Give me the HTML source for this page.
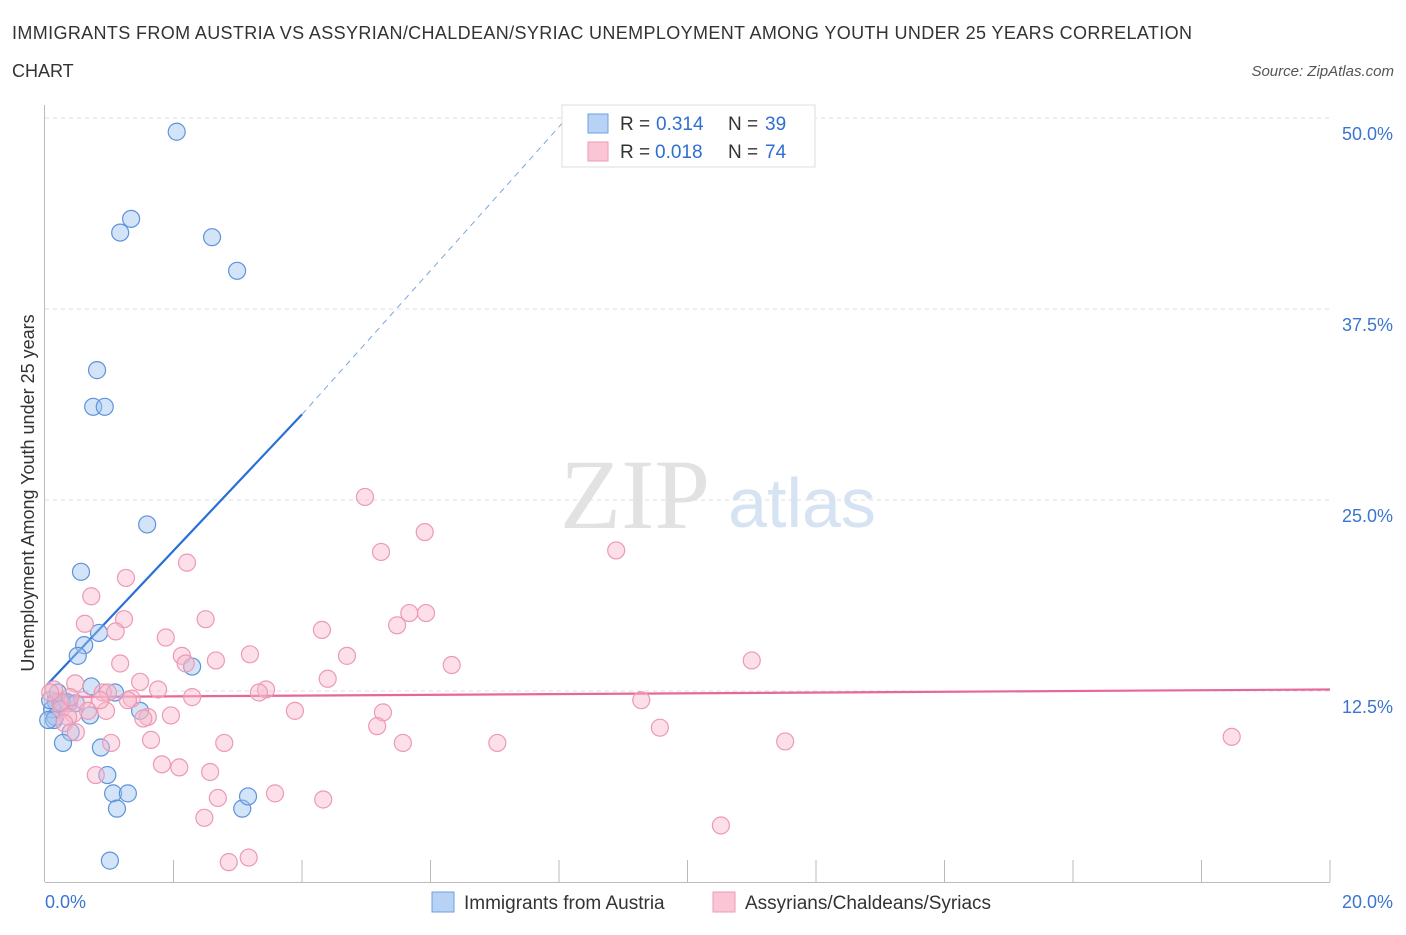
<!DOCTYPE html>
<html><head><meta charset="utf-8"><style>
body{margin:0;background:#fff;font-family:"Liberation Sans",sans-serif;}
svg text{font-family:"Liberation Sans",sans-serif;}
svg text.serif{font-family:"Liberation Serif",serif;}
</style></head><body>
<svg width="1406" height="930" xmlns="http://www.w3.org/2000/svg" id="chart">
<text x="12" y="39" font-size="18" fill="#333" textLength="1180">IMMIGRANTS FROM AUSTRIA VS ASSYRIAN/CHALDEAN/SYRIAC UNEMPLOYMENT AMONG YOUTH UNDER 25 YEARS CORRELATION</text>
<text x="12" y="77" font-size="18" fill="#333">CHART</text>
<text x="1394" y="76" font-size="15" fill="#555" font-style="italic" text-anchor="end">Source: ZipAtlas.com</text>
<text x="635" y="528" class="serif" font-size="100" fill="#e2e2e2" text-anchor="middle">ZIP</text>
<text x="802" y="527" font-size="70" fill="#d5e3f3" text-anchor="middle">atlas</text>
<g id="grid"></g>
<g id="axes"></g>
<text transform="translate(34,493) rotate(-90)" font-size="18" fill="#333" text-anchor="middle">Unemployment Among Youth under 25 years</text>
<g id="trend"></g>
<g id="pts"></g>
<g>
<rect x="562" y="105" width="253" height="62" fill="#fff" stroke="#ddd"/>
<rect x="588" y="114" width="20" height="19" fill="#b7d2f5" stroke="#6f9fe0"/>
<rect x="588" y="142" width="20" height="19" fill="#fac6d6" stroke="#ee9ab5"/>
<text x="620" y="130" font-size="19" fill="#333">R =</text>
<text x="656" y="130" font-size="19" fill="#2f6fd0">0.314</text>
<text x="728" y="130" font-size="19" fill="#333">N =</text>
<text x="765" y="130" font-size="19" fill="#2f6fd0">39</text>
<text x="620" y="158" font-size="19" fill="#333">R =</text>
<text x="655" y="158" font-size="19" fill="#2f6fd0">0.018</text>
<text x="728" y="158" font-size="19" fill="#333">N =</text>
<text x="765" y="158" font-size="19" fill="#2f6fd0">74</text>
</g>
<g>
<rect x="432" y="892" width="22" height="20" fill="#b7d2f5" stroke="#6f9fe0"/>
<text x="464" y="909" font-size="19" fill="#333">Immigrants from Austria</text>
<rect x="713" y="892" width="22" height="20" fill="#fac6d6" stroke="#ee9ab5"/>
<text x="745" y="909" font-size="19" fill="#333">Assyrians/Chaldeans/Syriacs</text>
</g>
</svg>
<script>
const xTicks=[0,20];
const yTicks=[12.5,25,37.5,50];
const blueX=[2.05,1.34,1.17,2.6,2.99,0.81,0.75,0.93,1.59,0.56,0.84,0.61,0.51,2.29,0.72,1.09,0.33,0.17,0.37,0.11,0.7,1.48,0.16,0.4,0.28,0.87,0.97,1.06,1.29,1.12,3.07,3.16,1.01,0.08,0.2,0.14,0.05,0.26,0.48];
const blueY=[49.1,43.4,42.5,42.2,40,33.5,31.1,31.1,23.4,20.3,16.3,15.5,14.8,14.1,12.8,12.4,11.8,11.8,11.7,11.3,10.9,11.2,10.8,9.8,9.1,8.8,7,5.8,5.8,4.8,4.8,5.6,1.4,11.9,12.4,10.6,10.6,11.7,11.7];
const pinkX=[4.98,5.91,5.23,8.89,2.21,1.26,0.72,5.67,5.93,1.23,2.5,0.62,5.48,4.31,1.1,1.88,2.13,3.19,4.7,2.66,6.33,11.0,1.17,2.19,1.48,4.4,0.47,1.76,3.44,3.33,2.29,9.28,0.9,0.98,1.35,1.29,0.14,0.59,0.23,3.89,5.26,0.95,1.6,1.96,1.53,0.25,0.44,0.36,5.17,9.57,0.3,1.65,2.79,5.57,7.04,11.52,18.47,1.03,0.48,1.82,2.09,0.79,2.57,3.58,2.69,4.33,2.48,10.52,2.86,3.17,0.08,0.39,0.67,0.86];
const pinkY=[25.2,22.9,21.6,21.7,20.9,19.9,18.7,17.6,17.6,17.2,17.2,16.9,16.8,16.5,16.4,16,14.8,14.9,14.8,14.5,14.2,14.5,14.3,14.3,13.1,13.3,13,12.6,12.6,12.4,12.1,11.9,12.4,12.4,12,11.9,12.6,11.9,11.8,11.2,11.1,11.2,10.8,10.9,10.7,11.3,11,10.8,10.2,10.1,10.4,9.3,9.1,9.1,9.1,9.2,9.5,9.1,9.8,7.7,7.5,7,7.2,5.8,5.5,5.4,4.2,3.7,1.3,1.6,12.4,12.1,11.2,11.9];
const blueTrend=[0.03,12.9,4.0,30.6];
const blueExt=[4.0,30.6,8.08,49.8];
const pinkTrend=[0.03,12.1,20,12.6];
const X0=45,XS=64.25,Y0=882,YS=15.28;
const sx=v=>X0+v*XS, sy=v=>Y0-v*YS;
const NS="http://www.w3.org/2000/svg";
function mk(tag,attrs,parent){const e=document.createElementNS(NS,tag);for(const k in attrs)e.setAttribute(k,attrs[k]);parent.appendChild(e);return e;}
const grid=document.getElementById('grid'),axes=document.getElementById('axes');
yTicks.forEach(t=>{
 const l=mk('line',{x1:45,x2:1330,y1:sy(t),y2:sy(t),stroke:'#ddd','stroke-dasharray':'4,4'},grid);
 
 
 const tx=mk('text',{x:1393,y:sy(t)+22,'font-size':18,fill:'#3a75d0','text-anchor':'end'},axes);
 tx.textContent=t.toFixed(1)+'%';
 
 
});
const ya=mk('line',{x1:44.5,x2:44.5,y1:105,y2:882,stroke:'#bbb'},axes);


const xa=mk('line',{x1:45,x2:1330,y1:882.5,y2:882.5,stroke:'#bbb'},axes);


for(let i=1;i<=10;i++){const x=sx(i*2);const tk=mk('line',{x1:x,x2:x,y1:860,y2:882,stroke:'#bbb'},axes);
 
 }
xTicks.forEach((t,i)=>{const tx=mk('text',{x:i?1393:45,y:908,'font-size':18,fill:'#3a75d0','text-anchor':i?'end':'start'},axes);
 tx.textContent=t.toFixed(1)+'%';
 
 });
const pts=document.getElementById('pts');
blueX.forEach((v,i)=>{const c=mk('circle',{cx:sx(v),cy:sy(blueY[i]),r:8.5,fill:'rgba(160,196,240,0.45)',stroke:'#5d93db','stroke-width':1.2},pts);
 
 });
pinkX.forEach((v,i)=>{const c=mk('circle',{cx:sx(v),cy:sy(pinkY[i]),r:8.5,fill:'rgba(248,185,205,0.45)',stroke:'#ec9ab4','stroke-width':1.2},pts);
 
 });
const tr=document.getElementById('trend');
const b=mk('line',{x1:sx(blueTrend[0]),y1:sy(blueTrend[1]),x2:sx(blueTrend[2]),y2:sy(blueTrend[3]),stroke:'#2a6fd6','stroke-width':2.2},tr);


const be=mk('line',{x1:sx(blueExt[0]),y1:sy(blueExt[1]),x2:sx(blueExt[2]),y2:sy(blueExt[3]),stroke:'#7aa6e0','stroke-width':1,'stroke-dasharray':'6,5'},tr);


const p=mk('line',{x1:sx(pinkTrend[0]),y1:sy(pinkTrend[1]),x2:sx(pinkTrend[2]),y2:sy(pinkTrend[3]),stroke:'#e8679a','stroke-width':2.2},tr);


</script>
</body></html>
